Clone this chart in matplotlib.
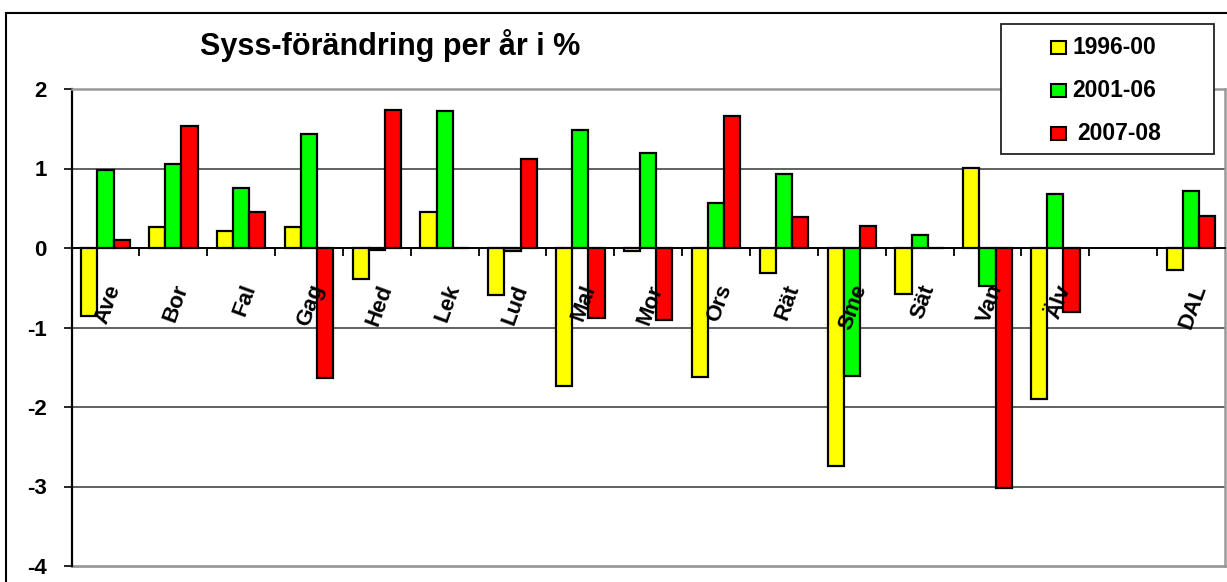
import numpy as np
import matplotlib
matplotlib.use("Agg")
import matplotlib.pyplot as plt
from matplotlib.patches import Rectangle

categories = ['Ave', 'Bor', 'Fal', 'Gag', 'Hed', 'Lek', 'Lud', 'Mal', 'Mor', 'Ors',
              'Rät', 'Sme', 'Sät', 'Van', 'Älv', '', 'DAL']
series_names = ['1996-00', '2001-06', '2007-08']
v_1996_00 = [-0.86, 0.27, 0.22, 0.27, -0.39, 0.45, -0.59, -1.73, -0.04, -1.62,
             -0.32, -2.74, -0.58, 1.01, -1.90, np.nan, -0.28]
v_2001_06 = [0.98, 1.06, 0.75, 1.43, -0.02, 1.72, -0.04, 1.48, 1.20, 0.57,
             0.93, -1.61, 0.16, -0.48, 0.68, np.nan, 0.72]
v_2007_08 = [0.10, 1.54, 0.45, -1.64, 1.74, 0.0, 1.12, -0.88, -0.90, 1.66,
             0.39, 0.28, 0.0, -3.02, -0.81, np.nan, 0.40]
yticks = [-4, -3, -2, -1, 0, 1, 2]
title = 'Syss-förändring per år i %'

colors = ['#FFFF00', '#00FF00', '#FF0000']
FONT = 'Liberation Sans'
plt.rcParams['font.family'] = [FONT, 'DejaVu Sans']
plt.rcParams['font.weight'] = 'bold'

W, H = 1227, 582
fig = plt.figure(figsize=(W / 100, H / 100), dpi=100)
left, right, top, bottom = 71.5, 1225, 89, 566
ax = fig.add_axes([left / W, 1 - bottom / H, (right - left) / W, (bottom - top) / H])

n = len(categories)
x = np.arange(n)
bw = 0.238
for k, (vals, c) in enumerate(zip([v_1996_00, v_2001_06, v_2007_08], colors)):
    ax.bar(x + (k - 1) * bw, vals, width=bw, color=c, edgecolor='black',
           linewidth=1.6, zorder=3)

ax.set_xlim(-0.5, n - 0.5)
ax.set_ylim(-4, 2)
ax.set_yticks(yticks)
ax.set_yticklabels([str(t) for t in yticks], fontsize=16, fontweight='bold')
ax.tick_params(axis='y', direction='out', length=6, width=1.2, pad=12, color='black')

# gridlines
for t in yticks:
    if t not in (0, 2, -4):
        ax.axhline(t, color='#555555', linewidth=1.3, zorder=1)

# frame
ax.spines['left'].set_color('black')
ax.spines['left'].set_linewidth(1.6)
for s in ('top', 'right'):
    ax.spines[s].set_color('#999999')
    ax.spines[s].set_linewidth(1.8)
ax.spines['bottom'].set_position(('data', 0))
ax.spines['bottom'].set_color('black')
ax.spines['bottom'].set_linewidth(1.4)
ax.spines['bottom'].set_zorder(4)
ax.axhline(-4, color='#999999', linewidth=2.0, clip_on=False, zorder=1)

ax.set_xticks(np.arange(0.5, n - 0.5, 1.0))
ax.set_xticklabels([])
ax.tick_params(axis='x', direction='out', length=5.5, width=1.3, color='black')

# category labels
for xi, lab in zip(x, categories):
    if lab:
        ax.text(xi + 0.14, -0.47, lab, rotation=70, rotation_mode='anchor',
                ha='right', va='center', fontsize=16, fontweight='bold', zorder=5)

# title
fig.text(390 / W, 1 - 46 / H, title, ha='center', va='center', fontsize=22,
         fontweight='bold')

# outer chart border
fig.patches.append(Rectangle((5.5 / W, -0.1), 2, 1 - 12.5 / H + 0.1,
                             transform=fig.transFigure, fill=False,
                             edgecolor='black', linewidth=1.5))

# legend (manual)
lx0, ly0, lx1, ly1 = 1001, 24.5, 1214, 154
fig.patches.append(Rectangle((lx0 / W, 1 - ly1 / H), (lx1 - lx0) / W, (ly1 - ly0) / H,
                             transform=fig.transFigure, facecolor='white',
                             edgecolor='#222222', linewidth=1.3, zorder=10))
rows = [47.5, 90.5, 133.5]
text_x = [1073, 1072, 1077]
for name, c, ry, tx in zip(series_names, colors, rows, text_x):
    fig.patches.append(Rectangle((1051 / W, 1 - (ry + 6) / H), 15 / W, 12 / H,
                                 transform=fig.transFigure, facecolor=c,
                                 edgecolor='black', linewidth=1.5, zorder=11))
    fig.text(tx / W, 1 - ry / H, name, ha='left', va='center', fontsize=16.5,
             fontweight='bold', zorder=12)

fig.savefig('out.png', dpi=100)
